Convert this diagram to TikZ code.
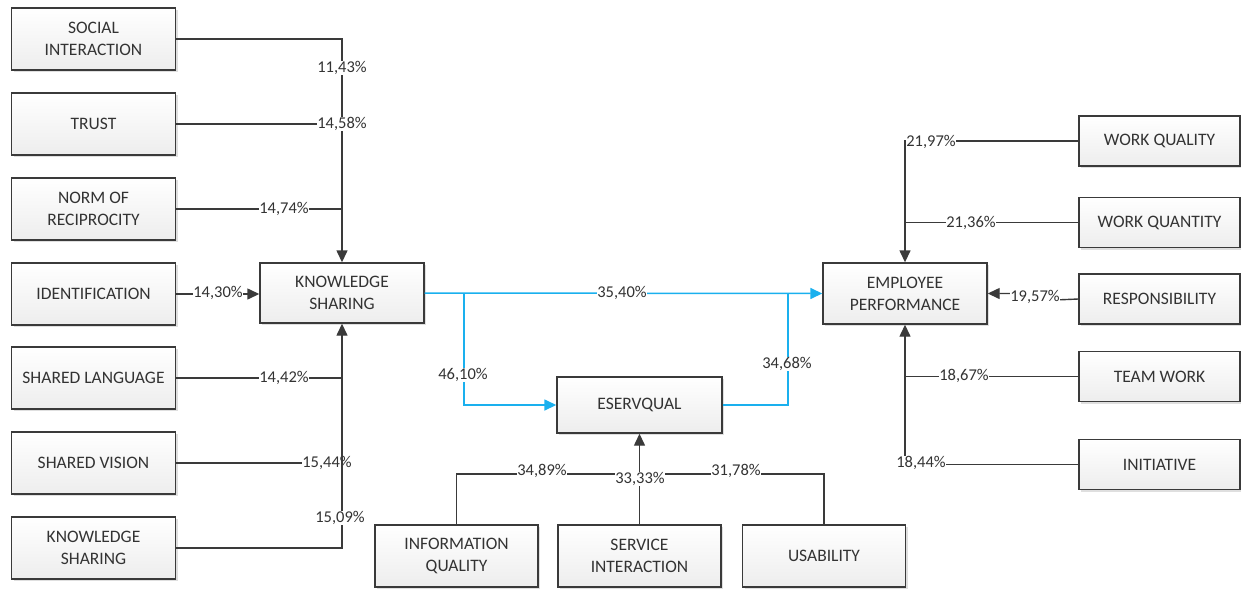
\documentclass[tikz,border=0pt]{standalone}
\usepackage{fontspec}
\setmainfont{Carlito}
\usetikzlibrary{arrows.meta,shadows}
\definecolor{ln}{HTML}{3A3A3A}
\definecolor{bl}{HTML}{1AB0EE}
\definecolor{tx}{HTML}{333333}
\tikzset{
  box/.style={draw=ln, line width=1.4pt, top color=white, bottom color=gray!14,
    align=center, font=\fontsize{17.5}{22}\selectfont, text=tx, inner sep=0pt,
    drop shadow={shadow xshift=2pt, shadow yshift=-2pt, opacity=0.25, fill=gray}},
  lbox/.style={box, minimum width=164pt, minimum height=62pt},
  rbox/.style={box, minimum width=161pt, minimum height=50pt},
  bbox/.style={box, minimum width=163pt, minimum height=62pt},
  lb/.style={fill=white, inner sep=0.5pt, font=\fontsize{16.5}{16.5}\selectfont, text=tx},
  conn/.style={draw=ln, line width=1.4pt},
  arr/.style={conn, -{Triangle[length=12pt,width=11pt]}},
  bconn/.style={draw=bl, line width=1.5pt},
  barr/.style={bconn, -{Triangle[length=12pt,width=11pt]}},
}
\begin{document}
\begin{tikzpicture}[x=1pt,y=-1pt]
\useasboundingbox (0,0) rectangle (1241,590);
% left boxes
\node[lbox] (si) at (93.5,39) {SOCIAL\\INTERACTION};
\node[lbox] (tr) at (93.5,124) {TRUST};
\node[lbox] (nr) at (93.5,209) {NORM OF\\RECIPROCITY};
\node[lbox] (id) at (93.5,294) {IDENTIFICATION};
\node[lbox] (sl) at (93.5,378) {SHARED LANGUAGE};
\node[lbox] (sv) at (93.5,463) {SHARED VISION};
\node[lbox] (kb) at (93.5,548) {KNOWLEDGE\\SHARING};
% central
\node[box, minimum width=164pt, minimum height=60pt] (ks) at (342,293) {KNOWLEDGE\\SHARING};
\node[box, minimum width=164pt, minimum height=61pt] (ep) at (905,293.5) {EMPLOYEE\\PERFORMANCE};
\node[box, minimum width=165pt, minimum height=56pt] (es) at (639.5,405) {ESERVQUAL};
% bottom
\node[bbox] (iq) at (456.5,556) {INFORMATION\\QUALITY};
\node[bbox] (sn) at (639.5,556) {SERVICE\\INTERACTION};
\node[bbox] (us) at (824,556) {USABILITY};
% right
\node[rbox] (wq) at (1159.5,141) {WORK QUALITY};
\node[rbox] (wt) at (1159.5,222.5) {WORK QUANTITY};
\node[rbox] (rs) at (1159.5,299) {RESPONSIBILITY};
\node[rbox] (tw) at (1159.5,376.5) {TEAM WORK};
\node[rbox] (in) at (1159.5,464.5) {INITIATIVE};
% left connectors
\draw[arr] (si.east) -| (ks.north);
\draw[conn] (tr.east) -- (tr.east -| ks.north);
\draw[conn] (nr.east) -- (nr.east -| ks.north);
\draw[arr] (id.east) -- (id.east -| ks.west);
\draw[arr] (kb.east) -| (ks.south);
\draw[conn] (sl.east) -- (sl.east -| ks.south);
\draw[conn] (sv.east) -- (sv.east -| ks.south);
\node[lb] (l1) at (342,68) {11,43\%};
\node[lb] (l2) at (342,124) {14,58\%};
\node[lb] (l3) at (284,209) {14,74\%};
\node[lb] (l4) at (218,293) {14,30\%};
\node[lb] (l5) at (284,378) {14,42\%};
\node[lb] (l6) at (327,463) {15,44\%};
\node[lb] (l7) at (340,518) {15,09\%};
\draw[conn] (l6.south -| ks.south) -- (l6.north -| ks.south);
% blue
\coordinate (b1) at (464,293);
\coordinate (b2) at (788,293);
\draw[barr] (ks.east) -- (ep.west);
\draw[barr] (b1) |- (es.west);
\draw[bconn] (es.east) -| (b2);
\node[lb] (l8) at (622,293) {35,40\%};
\node[lb] (l9) at (463,375) {46,10\%};
\node[lb] (l10) at (787,364) {34,68\%};
% bottom connectors
\coordinate (j) at (640,474);
\draw[conn] (iq.north) |- (j) -| (us.north);
\draw[arr] (sn.north) -- (es.south);
\node[lb] (l11) at (542,471) {34,89\%};
\node[lb] (l12) at (640,479) {33,33\%};
\node[lb] (l13) at (736,471) {31,78\%};
% right connectors
\coordinate (r1) at (1055,300);
\draw[arr] (wq.west) -| (ep.north);
\draw[conn] (wt.west) -- (wt.west -| ep.north);
\draw[arr] (rs.west) -- (r1) |- (ep.east);
\draw[conn] (tw.west) -- (tw.west -| ep.south);
\draw[arr] (in.west) -| (ep.south);
\node[lb] (l14) at (931,142) {21,97\%};
\node[lb] (l15) at (971,223) {21,36\%};
\node[lb] (l16) at (1035,297) {19,57\%};
\node[lb] (l17) at (964,376) {18,67\%};
\node[lb] (l18) at (921,463) {18,44\%};
\end{tikzpicture}
\end{document}
